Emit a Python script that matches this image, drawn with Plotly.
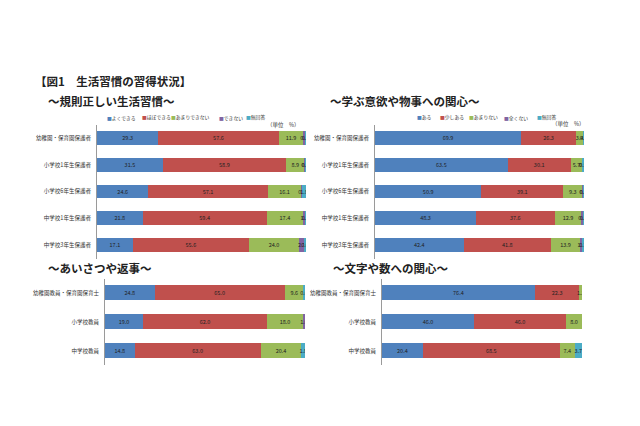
import plotly.graph_objects as go

# ~規則正しい生活習慣~
cats1 = ["幼稚園・保育園保護者", "小学校1年生保護者", "小学校6年生保護者", "中学校1年生保護者", "中学校3年生保護者"]
names1 = ["よくできる", "ほぼできる", "あまりできない", "できない", "無回答"]
p1_a = [29.3, 31.5, 24.6, 21.8, 17.1]
p1_b = [57.6, 58.9, 57.1, 59.4, 55.6]
p1_c = [11.9, 8.9, 16.1, 17.4, 24.0]
p1_d = [0.8, 0.3, 0.4, 1.2, 2.7]
p1_e = [0.4, 0.4, 1.8, 0.2, 0.6]

# ~学ぶ意欲や物事への関心~
cats2 = cats1
names2 = ["ある", "少しある", "あまりない", "全くない", "無回答"]
p2_a = [69.9, 63.5, 50.9, 48.3, 42.4]
p2_b = [26.3, 30.1, 39.1, 37.6, 41.8]
p2_c = [3.4, 5.7, 9.3, 12.9, 13.9]
p2_d = [0.0, 0.2, 0.3, 0.8, 1.2]
p2_e = [0.4, 0.5, 0.4, 0.4, 0.7]

# ~あいさつや返事~
cats3 = ["幼稚園教員・保育園保育士", "小学校教員", "中学校教員"]
p3_a = [24.8, 19.0, 14.8]
p3_b = [65.0, 62.0, 63.0]
p3_c = [9.6, 18.0, 20.4]
p3_d = [0.0, 1.0, 0.0]
p3_e = [0.6, 0.0, 1.8]

# ~文字や数への関心~
cats4 = cats3
p4_a = [76.4, 46.0, 20.4]
p4_b = [22.3, 46.0, 68.5]
p4_c = [1.3, 8.0, 7.4]
p4_d = [0.0, 0.0, 0.0]
p4_e = [0.0, 0.0, 3.7]

colors = ["#4F81BD", "#C0504D", "#9BBB59", "#8064A2", "#4BACC6"]
FONT = "Noto Sans CJK JP"
W, H = 640, 426


def px_x(v):
    return v / W


def px_y(v):
    return 1 - v / H


panels = [
    (cats1, [p1_a, p1_b, p1_c, p1_d, p1_e], "x", "y"),
    (cats2, [p2_a, p2_b, p2_c, p2_d, p2_e], "x2", "y2"),
    (cats3, [p3_a, p3_b, p3_c, p3_d, p3_e], "x3", "y3"),
    (cats4, [p4_a, p4_b, p4_c, p4_d, p4_e], "x4", "y4"),
]

fig = go.Figure()
for cats, series, xa, ya in panels:
    for i, vals in enumerate(series):
        fig.add_trace(go.Bar(
            y=cats, x=vals, orientation="h", xaxis=xa, yaxis=ya,
            marker=dict(color=colors[i], line=dict(width=0)),
            text=[f"{v:.1f}" for v in vals], textposition="inside",
            insidetextanchor="middle", textangle=0,
            textfont=dict(size=5.5, color="#222222", family=FONT),
            showlegend=False, hoverinfo="skip",
        ))

# axis domains in pixels (left, right, top, bottom)
doms = {
    "": (97, 306, 124.5, 258.5),
    "2": (375, 584, 124.5, 258.5),
    "3": (105, 305, 278.5, 365),
    "4": (382, 582, 278.5, 365),
}
lay = {}
for k, (l, r, t, b) in doms.items():
    lay["xaxis" + k] = dict(domain=[px_x(l), px_x(r)], range=[0, 100], visible=False,
                           anchor="y" + k, fixedrange=True)
    lay["yaxis" + k] = dict(domain=[px_y(b), px_y(t)], autorange="reversed",
                           anchor="x" + k, showline=True, linecolor="#9a9a9a", linewidth=1,
                           ticks="", showgrid=False, ticklabelstandoff=4,
                           tickfont=dict(size=5.5, color="#333333", family=FONT))
fig.update_layout(**lay)

ann = []


def txt(x, y, s, size, bold=False, anchor="left", color="#222222"):
    ann.append(dict(x=px_x(x), y=px_y(y), xref="paper", yref="paper", text=s,
                    showarrow=False, xanchor=anchor, yanchor="middle",
                    font=dict(size=size, color=color, family=FONT,
                              weight="bold" if bold else "normal")))


txt(33, 81, "【図1　生活習慣の習得状況】", 11.5, bold=True)
txt(46, 101, "～規則正しい生活習慣～", 11.5, bold=True)
txt(328, 101, "～学ぶ意欲や物事への関心～", 11.5, bold=True)
txt(46, 268, "～あいさつや返事～", 11.5, bold=True)
txt(331, 268, "～文字や数への関心～", 11.5, bold=True)

for xs, names in [([105, 140, 169, 217, 244], names1), ([415, 438, 467, 502, 535], names2)]:
    for x, name, c in zip(xs, names, colors):
        txt(x, 117, f'<span style="color:{c}">■</span>{name}', 4.8, color="#333333")
txt(302, 125, "（単位　%）", 5.5, anchor="right", color="#333333")
txt(587, 124, "（単位　%）", 5.5, anchor="right", color="#333333")

fig.update_layout(
    width=W, height=H, margin=dict(l=0, r=0, t=0, b=0),
    barmode="stack", bargap=0.48,
    paper_bgcolor="white", plot_bgcolor="white",
    uniformtext=dict(minsize=5.5, mode="show"),
    annotations=ann, showlegend=False,
    font=dict(family=FONT),
)

fig.write_html("out.html", config={"displayModeBar": False},
               post_script="document.body.style.margin='0';document.body.style.overflow='hidden';")
